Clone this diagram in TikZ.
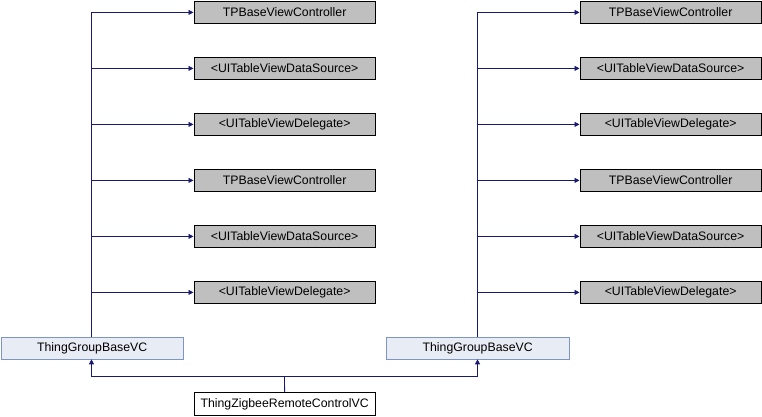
\documentclass[tikz,border=0pt]{standalone}
\usepackage{fontspec}
\setmainfont{Liberation Sans}
\usetikzlibrary{arrows.meta}
\definecolor{edgeblue}{RGB}{25,25,112}
\definecolor{basefill}{RGB}{232,236,244}
\definecolor{baseline}{RGB}{124,149,198}
\definecolor{extfill}{RGB}{191,191,191}
\begin{document}
\begin{tikzpicture}[x=1pt,y=-1pt,
  cls/.style={draw=black, line width=0.8pt, minimum height=22pt, inner sep=0pt,
    font=\fontsize{12.3}{14}\selectfont, anchor=north west},
  ext/.style={cls, fill=extfill, minimum width=181.5pt},
  base/.style={cls, fill=basefill, draw=baseline, minimum width=182.5pt},
  self/.style={cls, fill=white, minimum width=181.5pt, minimum height=23pt},
  inh/.style={draw=edgeblue, line width=0.8pt, -{Triangle[length=5pt,width=5pt]}}]
\useasboundingbox (0,0) rectangle (762,416);

% parent classes, two columns
\foreach \col/\x in {l/193.5, r/579.5}{
  \node[ext] (\col1) at (\x,1) {TPBaseViewController};
  \node[ext] (\col2) at (\x,57) {<UITableViewDataSource>};
  \node[ext] (\col3) at (\x,113) {<UITableViewDelegate>};
  \node[ext] (\col4) at (\x,169) {TPBaseViewController};
  \node[ext] (\col5) at (\x,225) {<UITableViewDataSource>};
  \node[ext] (\col6) at (\x,281) {<UITableViewDelegate>};
}

% base classes
\node[base] (bl) at (0.5,336.5) {ThingGroupBaseVC};
\node[base] (br) at (386,336.5) {ThingGroupBaseVC};

% derived class
\node[self] (vc) at (193.5,392) {ThingZigbeeRemoteControlVC};

% trunks and branches to the parent classes
\coordinate (tl) at (91.5,12);
\coordinate (tr) at (477.5,12);
\draw[draw=edgeblue, line width=0.8pt] (bl.north -| tl) -- (tl);
\draw[draw=edgeblue, line width=0.8pt] (br.north -| tr) -- (tr);
\foreach \i in {1,...,6}{
  \draw[inh] (tl |- l\i.west) -- (l\i.west);
  \draw[inh] (tr |- r\i.west) -- (r\i.west);
}

% derived class to both base classes
\coordinate (j) at (284.5,376.5);
\draw[inh] (vc.north) -- (j) -| (bl.south -| tl);
\draw[inh] (j) -| (br.south -| tr);
\end{tikzpicture}
\end{document}
